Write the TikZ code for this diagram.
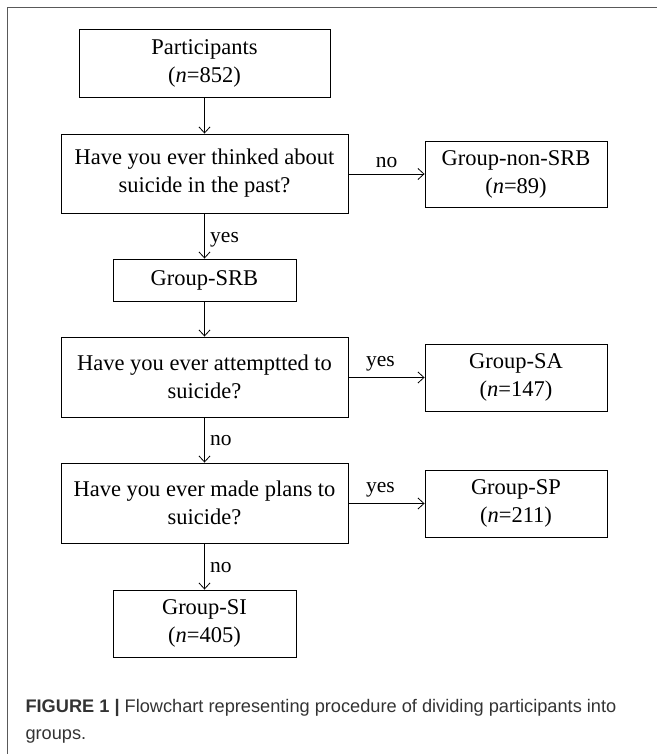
\documentclass[tikz,border=0pt]{standalone}
\usepackage{fontspec}
\setmainfont{Liberation Serif}
\newfontfamily\capfont{Liberation Sans}
\usetikzlibrary{arrows.meta}

\begin{document}
\begin{tikzpicture}[x=1pt, y=-1pt,
box/.style={draw, line width=0.9pt, align=center, inner sep=0pt,
  font=\fontsize{22.5}{28}\selectfont},
qbox/.style={box, minimum width=287pt, minimum height=79pt},
gbox/.style={box, minimum width=182pt, minimum height=67pt},
arr/.style={-{Straight Barb[length=6pt, width=11pt, line width=0.8pt]}, line width=0.8pt},
lab/.style={font=\fontsize{21.5}{24}\selectfont}]
\useasboundingbox (0,0) rectangle (657,754);
\draw[gray!70!black, line width=0.8pt] (7,754) -- (7,7.5) -- (657,7.5);

\node[box, minimum width=251pt, minimum height=68pt] (part) at (204.5,63) {Participants\\(\textit{n}=852)};
\node[qbox] (q1) at (204.5,173.5) {Have you ever thinked about\\suicide in the past?};
\node[gbox, minimum height=66pt] (nonsrb) at (516,174) {Group-non-SRB\\(\textit{n}=89)};
\node[box, minimum width=183pt, minimum height=42pt] (srb) at (204.5,280) {Group-SRB};
\node[qbox, minimum height=80pt] (q2) at (204.5,377) {Have you ever attemptted to\\suicide?};
\node[gbox] (sa) at (516,377.5) {Group-SA\\(\textit{n}=147)};
\node[qbox, minimum height=80pt] (q3) at (204.5,503) {Have you ever made plans to\\suicide?};
\node[gbox] (sp) at (516,503.5) {Group-SP\\(\textit{n}=211)};
\node[gbox, minimum width=183pt] (si) at (204.5,623.5) {Group-SI\\(\textit{n}=405)};

\draw[arr] (part) -- (q1);
\draw[arr] (q1.east |- nonsrb) -- node[lab, above=3pt] {no} (nonsrb.west);
\draw[arr] (q1) -- node[lab, right=2pt, pos=0.58] {yes} (srb);
\draw[arr] (srb) -- (q2);
\draw[arr] (q2.east |- sa) -- node[lab, above=3pt, pos=0.42] {yes} (sa.west);
\draw[arr] (q2) -- node[lab, right=2pt, pos=0.52] {no} (q3);
\draw[arr] (q3.east |- sp) -- node[lab, above=3pt, pos=0.42] {yes} (sp.west);
\draw[arr] (q3) -- node[lab, right=2pt, pos=0.52] {no} (si);

\node[anchor=west, align=left, text=black!80, font=\capfont\fontsize{18.2}{27}\selectfont]
  (cap) at (22,721) {\textbf{FIGURE 1 |} Flowchart representing procedure of dividing participants into\\groups.};
\end{tikzpicture}
\end{document}
